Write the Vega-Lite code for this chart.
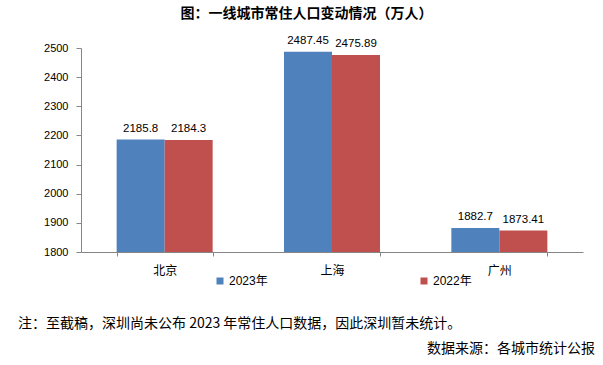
{
  "$schema": "https://vega.github.io/schema/vega-lite/v6.json",
  "padding": {"left": 18, "top": 6, "right": 0, "bottom": 0},
  "title": {"text": "图：一线城市常住人口变动情况（万人）", "fontSize": 14, "fontWeight": "bold", "font": "Noto Sans CJK SC", "color": "#000000", "anchor": "middle", "offset": 14},
  "spacing": 0,
  "vconcat": [
    {
      "width": 502,
      "height": 204,
      "data": {"values": [
        {"city": "北京", "year": "2023年", "value": 2185.8},
        {"city": "北京", "year": "2022年", "value": 2184.3},
        {"city": "上海", "year": "2023年", "value": 2487.45},
        {"city": "上海", "year": "2022年", "value": 2475.89},
        {"city": "广州", "year": "2023年", "value": 1882.7},
        {"city": "广州", "year": "2022年", "value": 1873.41}
      ]},
      "encoding": {
        "x": {"field": "city", "type": "nominal", "sort": ["北京", "上海", "广州"],
          "scale": {"paddingInner": 0.4263, "paddingOuter": 0.213},
          "axis": {"title": null, "labelAngle": 0, "tickBand": "extent", "domainColor": "#868686", "tickColor": "#868686", "tickSize": 4, "labelFontSize": 12, "labelColor": "#000000", "labelPadding": 9, "grid": false}},
        "xOffset": {"field": "year", "type": "nominal", "sort": ["2023年", "2022年"], "scale": {"paddingInner": 0, "paddingOuter": 0}},
        "y": {"field": "value", "type": "quantitative",
          "scale": {"domain": [1800, 2500], "zero": false, "nice": false},
          "axis": {"title": null, "values": [1800, 1900, 2000, 2100, 2200, 2300, 2400, 2500], "format": "d", "grid": false, "domainColor": "#868686", "tickColor": "#868686", "tickSize": 5, "labelFontSize": 11, "labelColor": "#000000", "labelPadding": 8}}
      },
      "layer": [
        {
          "mark": {"type": "bar", "clip": true},
          "encoding": {
            "color": {"field": "year", "type": "nominal",
              "scale": {"domain": ["2023年", "2022年"], "range": ["#4F81BD", "#C0504D"]},
              "legend": {"title": null, "orient": "none", "direction": "horizontal", "legendX": 133, "legendY": 227, "symbolType": "square", "symbolSize": 49, "symbolStrokeWidth": 0, "labelFontSize": 12, "labelColor": "#000000", "labelOffset": 3, "columnPadding": 150}}
          }
        },
        {
          "mark": {"type": "text", "baseline": "bottom", "dy": -6, "fontSize": 11.5, "color": "#000000"},
          "encoding": {"text": {"field": "value", "type": "nominal"}}
        }
      ]
    },
    {
      "width": 502,
      "height": 1,
      "data": {"values": []},
      "mark": "point",
      "encoding": {},
      "title": {"text": "注：至截稿，深圳尚未公布 2023 年常住人口数据，因此深圳暂未统计。", "orient": "bottom", "anchor": "start", "frame": "group", "dx": -63, "fontSize": 14, "fontWeight": "normal", "font": "Noto Sans CJK SC", "color": "#000000", "offset": 40}
    },
    {
      "width": 502,
      "height": 1,
      "data": {"values": []},
      "mark": "point",
      "encoding": {},
      "title": {"text": "数据来源：各城市统计公报", "orient": "bottom", "anchor": "end", "frame": "group", "dx": 12, "fontSize": 14, "fontWeight": "normal", "font": "Noto Sans CJK SC", "color": "#000000", "offset": 10}
    }
  ],
  "config": {"view": {"stroke": null}, "font": "Liberation Sans, Noto Sans CJK SC"}
}
